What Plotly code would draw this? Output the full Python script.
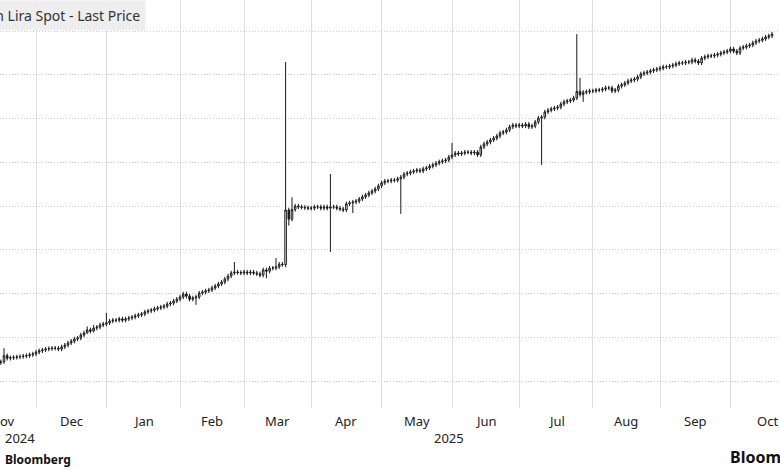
import pandas as pd
import plotly.graph_objects as go

# ---- data (USD/TRY daily closes) ----
first_open = 34.40
nov_close = [34.42, 34.44, 34.58, 34.52, 34.53, 34.54, 34.55, 34.56, 34.57, 34.58, 34.60, 34.62]
dec_close = [34.66, 34.69, 34.71, 34.73, 34.74, 34.75, 34.75, 34.73, 34.78, 34.82, 34.87, 34.91,
             34.96, 34.98, 35.05, 35.10, 35.17, 35.14, 35.21, 35.23, 35.28, 35.30]
jan_close = [35.33, 35.37, 35.39, 35.39, 35.42, 35.39, 35.42, 35.44, 35.46, 35.49, 35.51, 35.53,
             35.58, 35.60, 35.62, 35.65, 35.67, 35.69, 35.71, 35.76, 35.78, 35.83, 35.87]
feb_close = [35.92, 35.99, 35.94, 35.87, 35.90, 35.92, 36.01, 36.03, 36.06, 36.08, 36.13, 36.17,
             36.22, 36.26, 36.33, 36.40, 36.47, 36.49, 36.48, 36.47]
mar_close = [36.49, 36.47, 36.49, 36.47, 36.45, 36.42, 36.54, 36.51, 36.58, 36.58, 36.61, 36.67,
             36.66, 37.91, 37.70, 37.92, 38.00, 37.98, 37.97, 37.96, 37.95]
apr_close = [37.95, 37.98, 37.98, 37.95, 37.98, 37.95, 37.98, 37.98, 37.95, 37.93, 37.91, 38.05,
             38.07, 38.09, 38.11, 38.16, 38.21, 38.25, 38.30, 38.34, 38.39, 38.46]
may_close = [38.53, 38.57, 38.57, 38.59, 38.59, 38.62, 38.66, 38.73, 38.75, 38.78, 38.80, 38.82,
             38.80, 38.85, 38.87, 38.91, 38.94, 38.98, 39.01, 39.03, 39.05, 39.12]
jun_close = [39.17, 39.21, 39.19, 39.21, 39.23, 39.23, 39.21, 39.23, 39.17, 39.35, 39.42, 39.46,
             39.51, 39.55, 39.60, 39.67, 39.69, 39.74, 39.81, 39.85, 39.83]
jul_close = [39.85, 39.83, 39.87, 39.81, 39.83, 39.92, 40.01, 40.03, 40.15, 40.19, 40.22, 40.24,
             40.26, 40.33, 40.38, 40.40, 40.42, 40.47, 40.62, 40.55, 40.60, 40.61, 40.63]
aug_close = [40.63, 40.65, 40.65, 40.67, 40.70, 40.70, 40.63, 40.65, 40.74, 40.77, 40.81, 40.86,
             40.88, 40.90, 40.95, 41.02, 41.04, 41.06, 41.09, 41.11, 41.13]
sep_close = [41.15, 41.18, 41.18, 41.20, 41.22, 41.25, 41.27, 41.27, 41.29, 41.29, 41.34, 41.31,
             41.27, 41.38, 41.41, 41.43, 41.43, 41.45, 41.47, 41.50, 41.52, 41.54]
oct_close = [41.59, 41.54, 41.50, 41.61, 41.63, 41.66, 41.68, 41.73, 41.77, 41.79, 41.82, 41.86,
             41.89, 41.93]

# intraday extremes visible as long wicks: date -> (high, low)
wick_extremes = {
    "2024-11-18": (34.75, None),
    "2024-12-24": (35.25, 35.08),
    "2024-12-26": (35.28, 35.11),
    "2025-01-01": (35.56, None),
    "2025-02-10": (None, 35.74),
    "2025-02-26": (36.72, None),
    "2025-03-12": (None, 36.35),
    "2025-03-17": (36.81, None),
    "2025-03-20": (41.29, 36.60),
    "2025-03-21": (None, 37.55),
    "2025-03-24": (38.20, None),
    "2025-04-09": (38.73, 36.95),
    "2025-04-18": (38.14, 37.84),
    "2025-05-09": (None, 37.82),
    "2025-06-02": (39.44, None),
    "2025-07-10": (None, 38.94),
    "2025-07-25": (41.93, None),
    "2025-07-28": (40.93, None),
    "2025-07-29": (None, 40.38),
}

month_names = ["Nov", "Dec", "Jan", "Feb", "Mar", "Apr", "May", "Jun", "Jul", "Aug", "Sep", "Oct"]

# ---- build OHLC ----
closes = (nov_close + dec_close + jan_close + feb_close + mar_close + apr_close + may_close +
          jun_close + jul_close + aug_close + sep_close + oct_close)
dates = pd.bdate_range("2024-11-14", "2025-10-20")
assert len(dates) == len(closes)
opens = [first_open] + closes[:-1]
highs = [max(o, c) + 0.05 for o, c in zip(opens, closes)]
lows = [min(o, c) - 0.05 for o, c in zip(opens, closes)]
pos = {d.strftime("%Y-%m-%d"): i for i, d in enumerate(dates)}
for d, (h, l) in wick_extremes.items():
    i = pos[d]
    if h is not None:
        highs[i] = h
    if l is not None:
        lows[i] = l

fig = go.Figure(go.Candlestick(
    x=dates, open=opens, high=highs, low=lows, close=closes,
    increasing=dict(line=dict(color="#1a1a1a", width=1), fillcolor="#ffffff"),
    decreasing=dict(line=dict(color="#1a1a1a", width=1), fillcolor="#1a1a1a"),
    whiskerwidth=0, showlegend=False, hoverinfo="skip",
))

# month boundaries / label positions in trading-day space
allb = pd.bdate_range("2024-11-01", "2025-11-28")
firsts = []
for y, m in [(2024, 11), (2024, 12)] + [(2025, k) for k in range(1, 12)]:
    sel = allb[(allb.year == y) & (allb.month == m)]
    firsts.append(list(allb).index(sel[0]))
grid_vals = [allb[i] for i in firsts[1:-1]]
label_x = []
for a, b in zip(firsts[:-1], firsts[1:]):
    mid = (a + b) / 2
    base = int(mid)
    label_x.append(allb[base] + pd.Timedelta(hours=24 * (mid - base)))

font_fam = "Noto Sans, DejaVu Sans, sans-serif"
annotations = []
for name, xv in zip(month_names, label_x):
    annotations.append(dict(x=xv, xref="x", y=0, yref="paper", yshift=-13, yanchor="middle",
                            xanchor="center", text=name, showarrow=False,
                            font=dict(size=13, color="#222222", family=font_fam)))
annotations += [
    dict(x=3 / 780, xref="paper", y=0, yref="paper", yshift=-30, yanchor="middle", xanchor="left",
         text="2024", showarrow=False, font=dict(size=13, color="#222222", family=font_fam)),
    dict(x="2025-05-30", xref="x", y=0, yref="paper", yshift=-30, yanchor="middle", xanchor="center",
         text="2025", showarrow=False, font=dict(size=13, color="#222222", family=font_fam)),
    dict(x=3 / 780, xref="paper", y=0, yref="paper", yshift=-51, yanchor="middle", xanchor="left",
         text="<b>Bloomberg</b>", showarrow=False, font=dict(size=12, color="#111111", family=font_fam)),
    dict(x=728 / 780, xref="paper", y=0, yref="paper", yshift=-49, yanchor="middle", xanchor="left",
         text="<b>Bloomberg</b>", showarrow=False, font=dict(size=16, color="#111111", family=font_fam)),
    dict(x=146 / 780, xref="paper", y=1, yref="paper", yanchor="top", xanchor="right",
         text="Turkish Lira Spot - Last Price", showarrow=False, bgcolor="#eeeeee", borderpad=5,
         font=dict(size=14, color="#333333", family=font_fam)),
]

fig.update_layout(
    width=780, height=470,
    margin=dict(l=0, r=0, t=0, b=62),
    paper_bgcolor="white", plot_bgcolor="white",
    annotations=annotations,
    xaxis=dict(
        range=[pd.Timestamp("2024-11-14 18:00"), pd.Timestamp("2025-10-22 12:00")],
        rangebreaks=[dict(bounds=["sat", "mon"])],
        rangeslider=dict(visible=False),
        tickmode="array", tickvals=grid_vals, showticklabels=False, ticks="",
        showgrid=True, gridcolor="#dedede", gridwidth=1, zeroline=False, showline=False,
    ),
    yaxis=dict(
        range=[33.383, 42.709], tick0=34, dtick=1, showticklabels=False, ticks="",
        showgrid=True, gridcolor="#cccccc", griddash="1px,2px", gridwidth=1,
        zeroline=False, showline=False,
    ),
)

fig.write_html("out.html", config={"displayModeBar": False},
               post_script="document.body.style.margin='0';")
